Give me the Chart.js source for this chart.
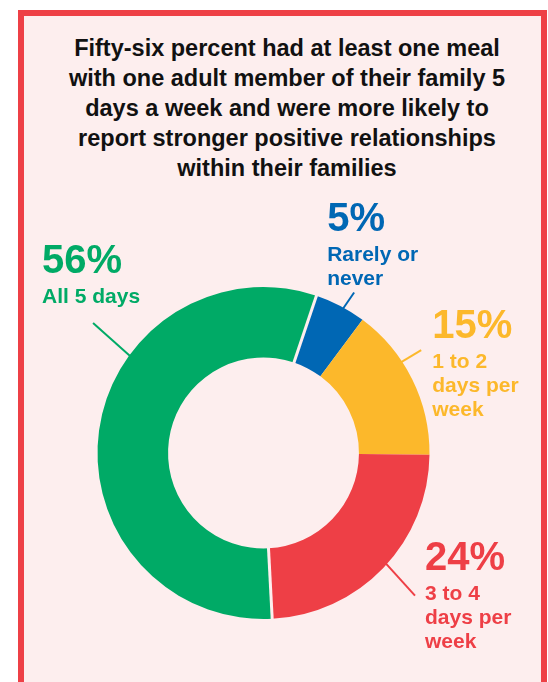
<!DOCTYPE html>
<html>
<head>
<meta charset="utf-8">
<script src="https://cdn.jsdelivr.net/npm/chart.js@4.4.1/dist/chart.umd.min.js"></script>
<style>
  body { margin: 0; background: #ffffff; }
  .frame {
    position: absolute; left: 18px; top: 10px;
    width: 517px; height: 700px;
    border: 6px solid #ee4046;
    background: #fdeeee;
  }
  .heading {
    position: absolute; left: 40px; top: 33px; width: 494px;
    margin: 0;
    font: bold 23.5px "Liberation Sans", Arial, sans-serif;
    line-height: 30px;
    text-align: center;
    color: #111111;
  }
  #mealChart { position: absolute; left: 0; top: 0; }
</style>
</head>
<body>
<div class="frame"></div>
<h1 class="heading">Fifty-six percent had at least one meal<br>with one adult member of their family 5<br>days a week and were more likely to<br>report stronger positive relationships<br>within their families</h1>
<canvas id="mealChart" width="548" height="682"></canvas>
<script>
//data block
const categories = ['All 5 days', 'Rarely or never', '1 to 2 days per week', '3 to 4 days per week'];
const shares = [56, 5, 15, 24];
const labelLines = [
    ['All 5 days'],
    ['Rarely or', 'never'],
    ['1 to 2', 'days per', 'week'],
    ['3 to 4', 'days per', 'week']
];
const sliceColors = ['#00aa66', '#0067b4', '#fcb82b', '#ee3f46'];
const pageBg = '#fdeeee';

//callouts: leader line from the ring edge, then the share and its label
// at = how far along the slice the line leaves, line = leader vector, text = offset from line end
const calloutSpots = [
    { at: 0.64, line: [-37, -33], text: [-51, -50] },
    { at: 0.57, line: [11, -16], text: [-27, -61] },
    { at: 0.37, line: [20, -12], text: [11, -12] },
    { at: 0.48, line: [29, 32], text: [10, -26] }
];

const calloutPlugin = {
    id: 'callouts',
    afterDatasetsDraw(chart, args, opts) {
        const ctx = chart.ctx;
        const meta = chart.getDatasetMeta(0);
        const values = chart.data.datasets[0].data;
        ctx.save();

        // gaps on both sides of the big slice
        const big = meta.data[0].getProps(['x', 'y', 'startAngle', 'endAngle', 'innerRadius', 'outerRadius'], true);
        ctx.strokeStyle = pageBg;
        ctx.lineWidth = 3;
        [big.startAngle, big.endAngle].forEach(a => {
            ctx.beginPath();
            ctx.moveTo(big.x + Math.cos(a) * (big.innerRadius - 1), big.y + Math.sin(a) * (big.innerRadius - 1));
            ctx.lineTo(big.x + Math.cos(a) * (big.outerRadius + 1), big.y + Math.sin(a) * (big.outerRadius + 1));
            ctx.stroke();
        });

        meta.data.forEach((arc, i) => {
            const p = arc.getProps(['x', 'y', 'startAngle', 'endAngle', 'outerRadius'], true);
            const spot = opts.spots[i];
            const a = p.startAngle + (p.endAngle - p.startAngle) * spot.at;
            const sx = p.x + Math.cos(a) * (p.outerRadius - 1);
            const sy = p.y + Math.sin(a) * (p.outerRadius - 1);
            const ex = sx + spot.line[0];
            const ey = sy + spot.line[1];
            const color = sliceColors[i];

            ctx.strokeStyle = color;
            ctx.lineWidth = 2;
            ctx.beginPath();
            ctx.moveTo(sx, sy);
            ctx.lineTo(ex, ey);
            ctx.stroke();

            const tx = ex + spot.text[0];
            let ty = ey + spot.text[1];
            ctx.fillStyle = color;
            ctx.textAlign = 'left';
            ctx.textBaseline = 'alphabetic';
            ctx.font = 'bold 40px "Liberation Sans", Arial, sans-serif';
            ctx.fillText(values[i] + '%', tx, ty);
            ctx.font = 'bold 21px "Liberation Sans", Arial, sans-serif';
            ty += 30;
            labelLines[i].forEach(line => {
                ctx.fillText(line, tx, ty);
                ty += 24;
            });
        });
        ctx.restore();
    }
};

//config block
const mealChartConfig = {
    type: 'doughnut',
    data: {
        labels: categories,
        datasets: [{
            data: shares,
            backgroundColor: sliceColors,
            borderWidth: 0,
            hoverOffset: 0
        }]
    },
    options: {
        responsive: false,
        animation: false,
        cutout: '57.5%',
        rotation: 177,
        layout: {
            padding: { left: 97, right: 118, top: 287, bottom: 63 }
        },
        plugins: {
            legend: { display: false },
            tooltip: { enabled: false },
            callouts: { spots: calloutSpots }
        }
    },
    plugins: [calloutPlugin]
};

//render block
const mealChart = new Chart(document.getElementById('mealChart'), mealChartConfig);
</script>
</body>
</html>
